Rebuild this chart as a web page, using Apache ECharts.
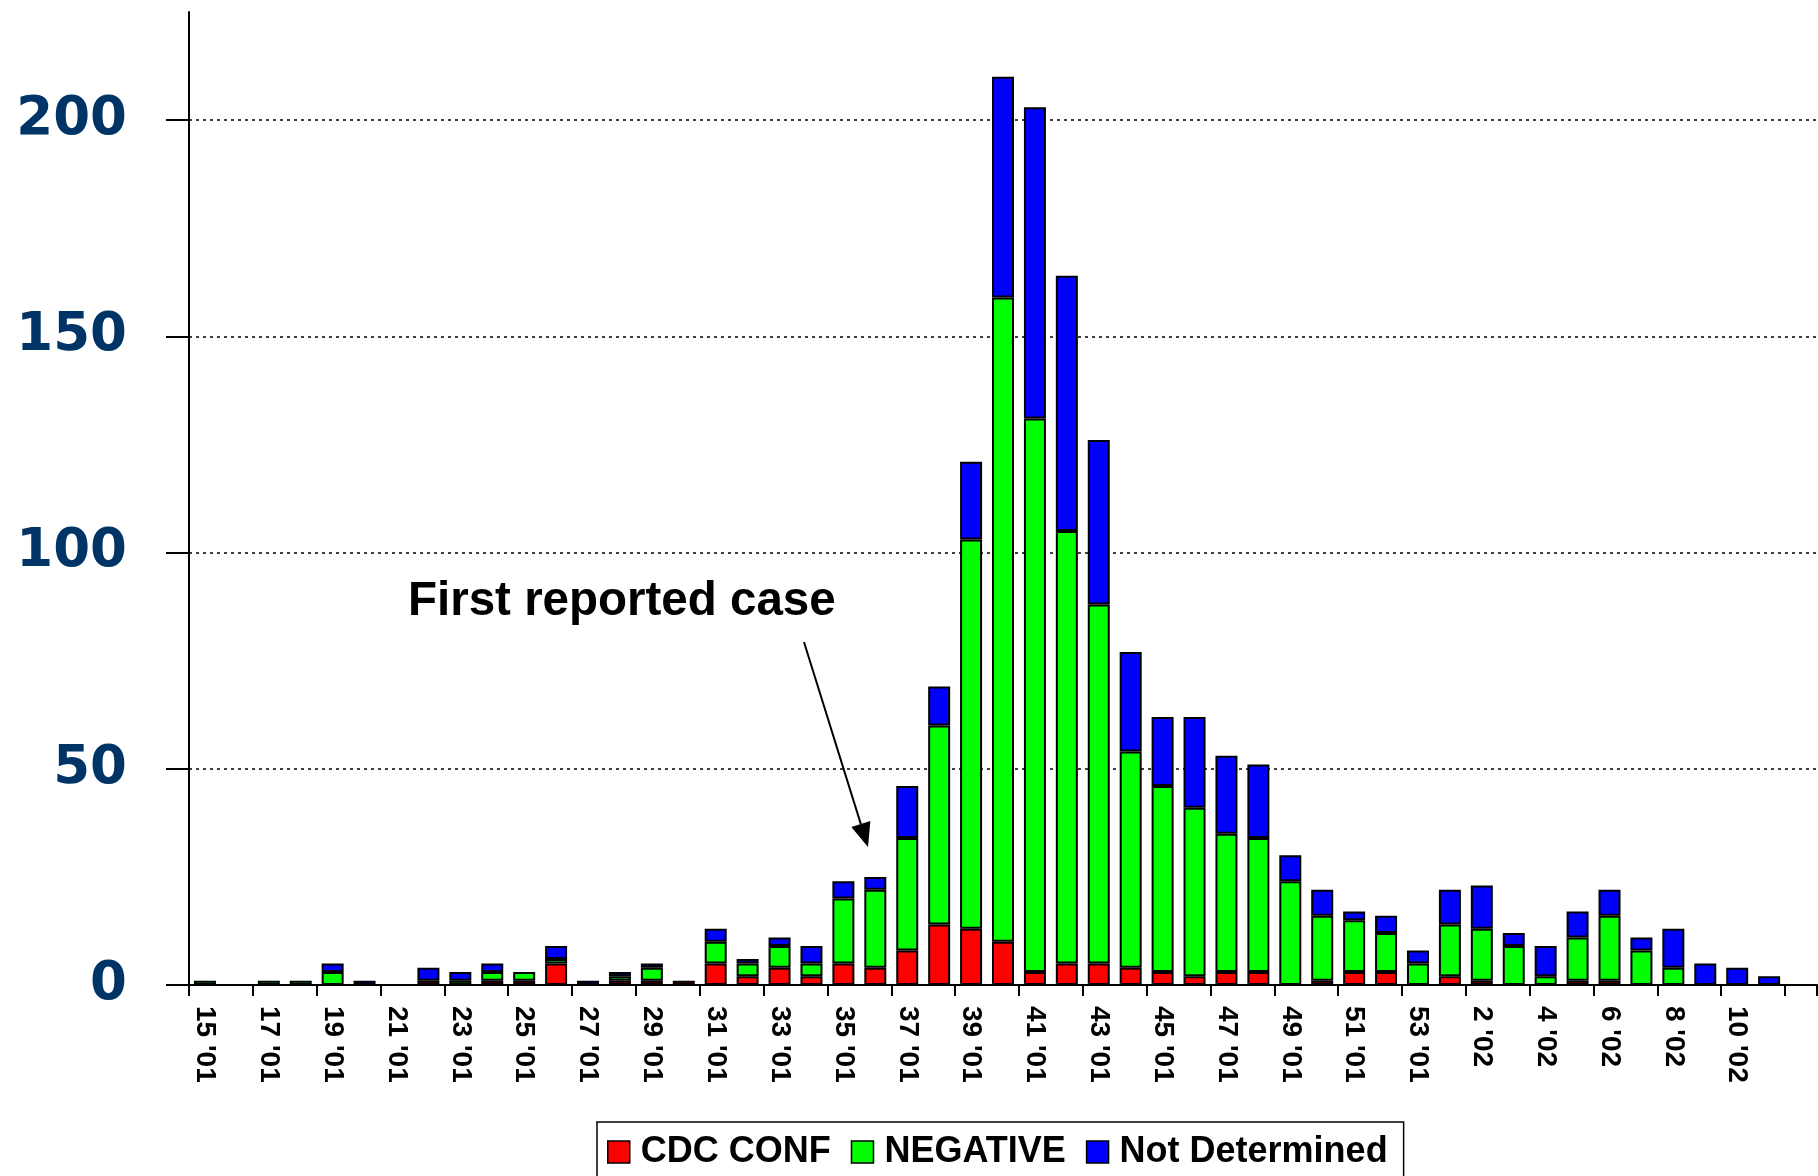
<!DOCTYPE html>
<html>
<head>
<meta charset="utf-8">
<script src="https://cdn.jsdelivr.net/npm/echarts@6/dist/echarts.min.js"></script>
<style>
  html, body { margin: 0; padding: 0; background: #fff; }
  #chart { width: 1818px; height: 1176px; }
</style>
</head>
<body>
<div id="chart"></div>
<script>
// Categories: epidemiological weeks
const weeks = [
  "15 '01","16 '01","17 '01","18 '01","19 '01","20 '01","21 '01","22 '01","23 '01","24 '01",
  "25 '01","26 '01","27 '01","28 '01","29 '01","30 '01","31 '01","32 '01","33 '01","34 '01",
  "35 '01","36 '01","37 '01","38 '01","39 '01","40 '01","41 '01","42 '01","43 '01","44 '01",
  "45 '01","46 '01","47 '01","48 '01","49 '01","50 '01","51 '01","52 '01","53 '01",
  "1 '02","2 '02","3 '02","4 '02","5 '02","6 '02","7 '02","8 '02","9 '02","10 '02","11 '02",""
];
const cdcConf = [
  0,0,0,0,0,0,0,1,0,1,
  1,5,0,1,1,1,5,2,4,2,
  5,4,8,14,13,10,3,5,5,4,
  3,2,3,3,0,1,3,3,0,
  2,1,0,0,1,1,0,0,0,0,0,0
];
const negative = [
  1,0,1,1,3,0,0,0,1,2,
  2,1,0,1,3,0,5,3,5,3,
  15,18,26,46,90,149,128,100,83,50,
  43,39,32,31,24,15,12,9,5,
  12,12,9,2,10,15,8,4,0,0,0,0
];
const notDetermined = [
  0,0,0,0,2,1,0,3,2,2,
  0,3,1,1,1,0,3,1,2,4,
  4,3,12,9,18,51,72,59,38,23,
  16,21,18,17,6,6,2,4,3,
  8,10,3,7,6,6,3,9,5,4,2,0
];
const yTicks = [0, 50, 100, 150, 200];
const seriesNames = ['CDC CONF', 'NEGATIVE', 'Not Determined'];
const seriesColors = ['#FF0000', '#00FF00', '#0000FF'];

const chart = echarts.init(document.getElementById('chart'), null, { renderer: 'canvas' });

const nz = arr => arr.map(v => (v === 0 ? '-' : v));
const mkSeries = (name, data, color) => ({
  name: name,
  type: 'bar',
  stack: 'total',
  data: nz(data),
  barWidth: 22,
  itemStyle: { color: color, borderColor: '#000', borderWidth: 2 },
  emphasis: { disabled: true },
  animation: false
});

// arrow geometry (annotation)
const ax0 = 804, ay0 = 642, tipX = 868, tipY = 847;
const dx = tipX - ax0, dy = tipY - ay0, len = Math.hypot(dx, dy);
const ux = dx / len, uy = dy / len;
const headL = 24, headW = 10;
const bx = tipX - ux * headL, by = tipY - uy * headL;

chart.setOption({
  animation: false,
  grid: { left: 189, right: 1, top: 12, bottom: 191, containLabel: false },
  legend: {
    data: seriesNames,
    left: 597,
    top: 1122,
    orient: 'horizontal',
    padding: [12, 16, 40, 10],
    borderColor: '#000',
    borderWidth: 1.5,
    itemGap: 20,
    itemWidth: 22,
    itemHeight: 22,
    icon: 'rect',
    itemStyle: { borderColor: '#000', borderWidth: 1.5 },
    selectedMode: false,
    textStyle: {
      fontFamily: 'Liberation Sans, Arial, sans-serif',
      fontWeight: 'bold',
      fontSize: 36,
      color: '#000',
      padding: [0, 0, 0, 6]
    }
  },
  xAxis: {
    type: 'category',
    data: weeks,
    boundaryGap: true,
    axisLine: { show: true, lineStyle: { color: '#000', width: 2 } },
    axisTick: { show: true, length: 11, lineStyle: { color: '#000', width: 2 } },
    axisLabel: {
      interval: 1,
      rotate: -90,
      margin: 21,
      fontFamily: 'Liberation Sans, Arial, sans-serif',
      fontWeight: 'bold',
      fontSize: 28,
      color: '#000'
    },
    splitLine: { show: false }
  },
  yAxis: {
    type: 'value',
    min: 0,
    max: 225,
    interval: 25,
    axisLine: { show: true, lineStyle: { color: '#000', width: 2 } },
    axisTick: { show: true, inside: false, length: 23, customValues: yTicks, lineStyle: { color: '#000', width: 2 } },
    axisLabel: {
      customValues: yTicks,
      margin: 62,
      fontFamily: 'DejaVu Sans, sans-serif',
      fontWeight: 'bold',
      fontSize: 53,
      color: '#003366'
    },
    splitLine: {
      show: true,
      showMinLine: false,
      showMaxLine: true,
      lineStyle: { color: '#000', width: 1.5, type: [3, 4] }
    }
  },
  series: [
    mkSeries(seriesNames[0], cdcConf, seriesColors[0]),
    mkSeries(seriesNames[1], negative, seriesColors[1]),
    mkSeries(seriesNames[2], notDetermined, seriesColors[2])
  ],
  graphic: [
    {
      type: 'text',
      left: 408,
      top: 578,
      style: {
        text: 'First reported case',
        fontFamily: 'Liberation Sans, Arial, sans-serif',
        fontWeight: 'bold',
        fontSize: 47.5,
        fill: '#000'
      },
      z: 100
    },
    {
      type: 'line',
      shape: { x1: ax0, y1: ay0, x2: bx, y2: by },
      style: { stroke: '#000', lineWidth: 2 },
      z: 100
    },
    {
      type: 'polygon',
      shape: {
        points: [
          [tipX, tipY],
          [bx - uy * headW, by + ux * headW],
          [bx + uy * headW, by - ux * headW]
        ]
      },
      style: { fill: '#000' },
      z: 100
    }
  ]
});
</script>
</body>
</html>
